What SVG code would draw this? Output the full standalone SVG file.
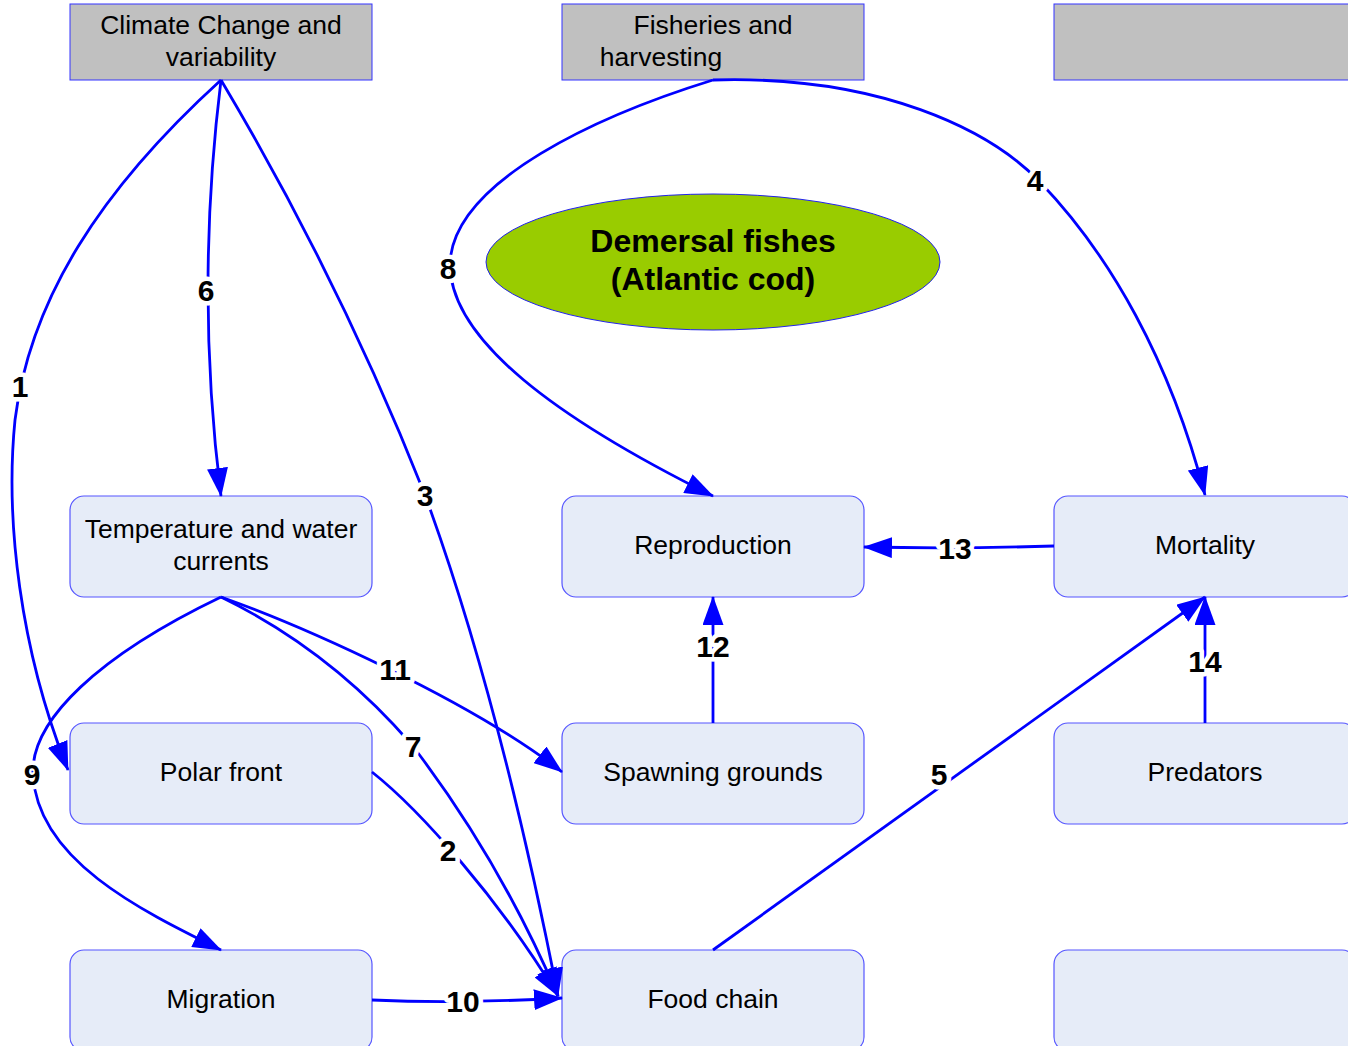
<svg xmlns="http://www.w3.org/2000/svg" width="1348" height="1046" viewBox="0 0 1348 1046">
  <style>
    .hdr { fill: #C0C0C0; stroke: #3333FF; stroke-width: 1; }
    .box { fill: #E6ECF8; stroke: #5555FF; stroke-width: 1.2; }
    .txt { font-family: "Liberation Sans", Arial, sans-serif; font-size: 26.5px; fill: #000; text-anchor: middle; }
    .ttl { font-family: "Liberation Sans", Arial, sans-serif; font-size: 32px; font-weight: bold; fill: #000; text-anchor: middle; }
    .edge { fill: none; stroke: #0000FF; stroke-width: 2.8; marker-end: url(#arrow); }
    .lbl { font-family: "Liberation Sans", Arial, sans-serif; font-size: 30px; font-weight: bold; fill: #000; text-anchor: middle;
           paint-order: stroke; stroke: #FFFFFF; stroke-width: 9px; stroke-linejoin: round; }
  </style>
  <defs>
    <marker id="arrow" markerUnits="userSpaceOnUse" markerWidth="29" markerHeight="21" refX="28" refY="10.5" orient="auto" viewBox="0 0 29 21">
      <path d="M0,0 L29,10.5 L0,21 z" fill="#0000FF"/>
    </marker>
  </defs>
  <rect width="1348" height="1046" fill="#FFFFFF"/>

  <!-- driver headers -->
  <g id="climate">
    <rect class="hdr" x="70" y="4" width="302" height="76"/>
    <text class="txt" x="221" y="34">Climate Change and</text>
    <text class="txt" x="221" y="66">variability</text>
  </g>
  <g id="fisheries">
    <rect class="hdr" x="562" y="4" width="302" height="76"/>
    <text class="txt" x="713" y="34">Fisheries and</text>
    <text class="txt" x="661" y="66">harvesting</text>
  </g>
  <g id="header3">
    <rect class="hdr" x="1054" y="4" width="302" height="76"/>
  </g>

  <!-- species -->
  <g id="cod">
    <ellipse cx="713" cy="262" rx="227" ry="68" fill="#99CC00" stroke="#2222EE" stroke-width="1"/>
    <text class="ttl" x="713" y="252">Demersal fishes</text>
    <text class="ttl" x="713" y="290">(Atlantic cod)</text>
  </g>

  <!-- process boxes -->
  <g id="temperature">
    <rect class="box" x="70" y="496" width="302" height="101" rx="14"/>
    <text class="txt" x="221" y="538">Temperature and water</text>
    <text class="txt" x="221" y="570">currents</text>
  </g>
  <g id="reproduction">
    <rect class="box" x="562" y="496" width="302" height="101" rx="14"/>
    <text class="txt" x="713" y="554">Reproduction</text>
  </g>
  <g id="mortality">
    <rect class="box" x="1054" y="496" width="302" height="101" rx="14"/>
    <text class="txt" x="1205" y="554">Mortality</text>
  </g>
  <g id="polarfront">
    <rect class="box" x="70" y="723" width="302" height="101" rx="14"/>
    <text class="txt" x="221" y="781">Polar front</text>
  </g>
  <g id="spawning">
    <rect class="box" x="562" y="723" width="302" height="101" rx="14"/>
    <text class="txt" x="713" y="781">Spawning grounds</text>
  </g>
  <g id="predators">
    <rect class="box" x="1054" y="723" width="302" height="101" rx="14"/>
    <text class="txt" x="1205" y="781">Predators</text>
  </g>
  <g id="migration">
    <rect class="box" x="70" y="950" width="302" height="101" rx="14"/>
    <text class="txt" x="221" y="1008">Migration</text>
  </g>
  <g id="foodchain">
    <rect class="box" x="562" y="950" width="302" height="101" rx="14"/>
    <text class="txt" x="713" y="1008">Food chain</text>
  </g>
  <g id="box9">
    <rect class="box" x="1054" y="950" width="302" height="101" rx="14"/>
  </g>

  <!-- connectors with their numbers -->
  <g id="connectors">
    <path class="edge" d="M221,80 C100,190 30,300 15,420 C5,520 20,650 68,770"/>
    <path class="edge" d="M221,80 Q195,290 221,496"/>
    <path class="edge" d="M221,80 Q340,280 425,495 Q500,700 558,996"/>
    <path class="edge" d="M713,80 C600,115 455,180 450,262 C448,340 560,420 713,496"/>
    <path class="edge" d="M713,80 C880,75 990,130 1040,182 C1110,255 1170,360 1205,495"/>
    <path class="edge" d="M221,597 C100,655 30,720 33,775 C38,860 140,910 221,950"/>
    <path class="edge" d="M221,597 Q330,650 412,745 Q500,860 558,996"/>
    <path class="edge" d="M221,597 C300,625 470,700 562,772"/>
    <path class="edge" d="M372,772 C420,810 500,900 558,996"/>
    <path class="edge" d="M372,1000 Q460,1004 562,998"/>
    <path class="edge" d="M713,950 L1205,597"/>
    <path class="edge" d="M713,723 L713,597"/>
    <path class="edge" d="M1054,546 Q960,549 864,547"/>
    <path class="edge" d="M1205,723 L1205,597"/>

    <text class="lbl" x="20" y="397">1</text>
    <text class="lbl" x="206" y="301">6</text>
    <text class="lbl" x="425" y="506">3</text>
    <text class="lbl" x="448" y="279">8</text>
    <text class="lbl" x="1035" y="191">4</text>
    <text class="lbl" x="955" y="559">13</text>
    <text class="lbl" x="713" y="657">12</text>
    <text class="lbl" x="1205" y="672">14</text>
    <text class="lbl" x="395" y="680">11</text>
    <text class="lbl" x="413" y="757">7</text>
    <text class="lbl" x="32" y="785">9</text>
    <text class="lbl" x="448" y="861">2</text>
    <text class="lbl" x="939" y="785">5</text>
    <text class="lbl" x="463" y="1012">10</text>
  </g>
</svg>
